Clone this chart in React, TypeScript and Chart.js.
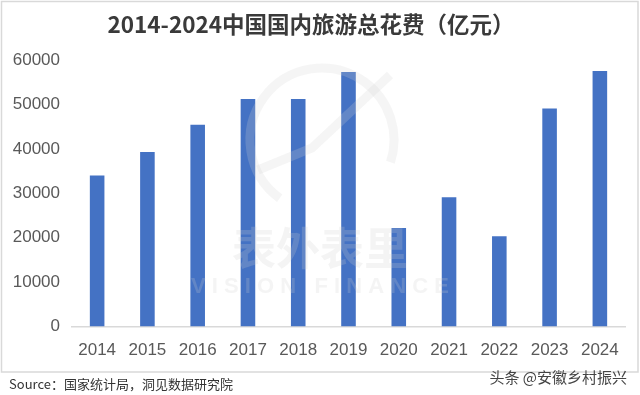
import React, { useEffect, useRef } from "react";
import { Chart, registerables } from "chart.js";

Chart.register(...registerables);

const years = ["2014", "2015", "2016", "2017", "2018", "2019", "2020", "2021", "2022", "2023", "2024"];
const spending = [34000, 39300, 45400, 51200, 51200, 57300, 22200, 29100, 20300, 49100, 57500];
const yTicks = [0, 10000, 20000, 30000, 40000, 50000, 60000];

const titleText = "2014-2024中国国内旅游总花费（亿元）";
const sourceText = "Source：国家统计局，洞见数据研究院";
const creditText = "头条 @安徽乡村振兴";
const wmCn = "表外表里";
const wmEn = "VISION FINANCE";

const CJK = '"Noto Sans CJK SC", "Noto Sans", sans-serif';
const NUM = '"Liberation Sans", Arial, sans-serif';

const decorPlugin = {
  id: "decor",
  beforeDraw(chart: any) {
    const ctx = chart.ctx;
    ctx.save();
    ctx.fillStyle = "#ffffff";
    ctx.fillRect(0, 0, chart.width, chart.height);
    ctx.strokeStyle = "#d9d9d9";
    ctx.lineWidth = 1.5;
    ctx.strokeRect(1.5, 1.5, 636.5, 370.5);
    ctx.fillStyle = "#3a3a3a";
    ctx.font = `bold 22.5px ${CJK}`;
    ctx.textAlign = "center";
    ctx.textBaseline = "middle";
    ctx.fillText(titleText, 311, 24);
    ctx.restore();
  },
  afterDatasetsDraw(chart: any) {
    const ctx = chart.ctx;
    ctx.save();
    ctx.globalAlpha = 0.22;
    ctx.strokeStyle = "#d0d0d0";
    ctx.lineWidth = 9;
    ctx.beginPath();
    ctx.arc(322, 140, 72, Math.PI * 0.7, Math.PI * 2.1);
    ctx.stroke();
    ctx.beginPath();
    ctx.moveTo(258, 170);
    ctx.lineTo(312, 148);
    ctx.lineTo(390, 75);
    ctx.stroke();
    ctx.fillStyle = "#cfcfcf";
    ctx.font = `bold 44px ${CJK}`;
    ctx.textAlign = "center";
    ctx.textBaseline = "middle";
    ctx.fillText(wmCn, 320, 248);
    ctx.font = `bold 22px ${NUM}`;
    ctx.fillText(wmEn.split("").join(" "), 320, 287);
    ctx.restore();

    ctx.save();
    ctx.fillStyle = "#333333";
    ctx.font = `13px ${CJK}`;
    ctx.textAlign = "left";
    ctx.textBaseline = "middle";
    ctx.fillText(sourceText, 9, 384);
    ctx.fillStyle = "#444444";
    ctx.font = `15px ${CJK}`;
    ctx.textAlign = "right";
    ctx.fillText(creditText, 627, 377);
    ctx.restore();
  },
};

export default function App() {
  const ref = useRef<HTMLCanvasElement>(null);
  useEffect(() => {
    document.body.style.margin = "0";
    const chart = new Chart(ref.current as HTMLCanvasElement, {
      type: "bar",
      data: {
        labels: years,
        datasets: [
          {
            data: spending,
            backgroundColor: "#4472C4",
            borderWidth: 0,
            barPercentage: 0.29,
            categoryPercentage: 1,
          },
        ],
      },
      options: {
        animation: false,
        responsive: false,
        layout: { padding: { top: 60, right: 15, left: 0, bottom: 0 } },
        plugins: { legend: { display: false }, title: { display: false }, tooltip: { enabled: false } },
        scales: {
          x: {
            grid: { display: false, drawTicks: false },
            border: { display: true, color: "#d9d9d9", width: 1.5 },
            ticks: { color: "#595959", font: { size: 17, family: NUM }, padding: 14, maxRotation: 0 },
            afterFit(scale: any) {
              scale.height = 68.5;
            },
          },
          y: {
            min: 0,
            max: 60000,
            afterBuildTicks(scale: any) {
              scale.ticks = yTicks.map((v) => ({ value: v }));
            },
            grid: { display: false, drawTicks: false },
            border: { display: false },
            ticks: {
              color: "#595959",
              font: { size: 17, family: NUM },
              padding: 12,
              callback: (v: any) => String(v),
            },
            afterFit(scale: any) {
              scale.width = 72;
            },
          },
        },
      },
      plugins: [decorPlugin],
    });
    return () => chart.destroy();
  }, []);
  return (
    <div style={{ width: 640, height: 395 }}>
      <canvas ref={ref} width={640} height={395} style={{ display: "block" }} />
    </div>
  );
}
